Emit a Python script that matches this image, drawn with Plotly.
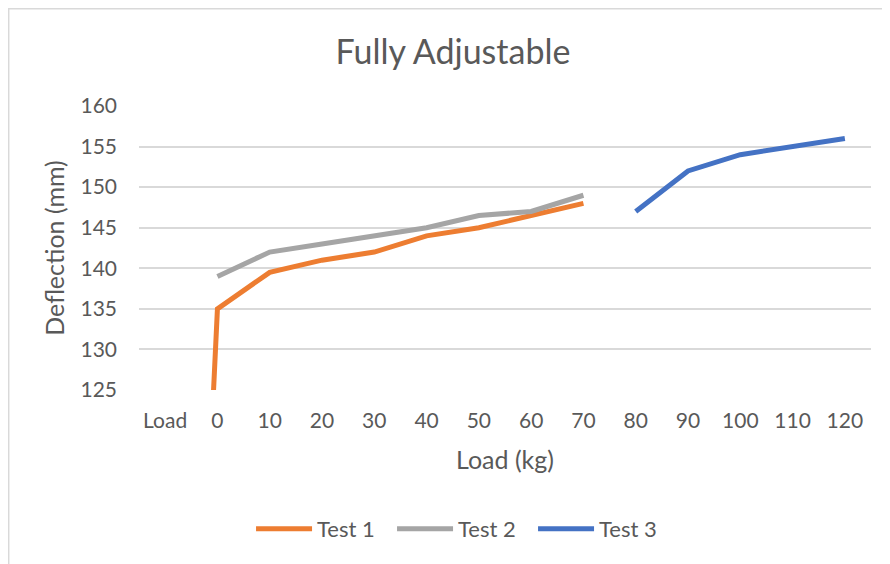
import plotly.graph_objects as go

loads = ["Load", "0", "10", "20", "30", "40", "50", "60", "70", "80", "90", "100", "110", "120"]
test1 = [0, 135, 139.5, 141, 142, 144, 145, 146.5, 148, None, None, None, None, None]
test2 = [None, 139, 142, 143, 144, 145, 146.5, 147, 149, None, None, None, None, None]
test3 = [None, None, None, None, None, None, None, None, None, 147, 152, 154, 155, 156]

series = [("Test 1", test1, "#ED7D31"), ("Test 2", test2, "#A5A5A5"), ("Test 3", test3, "#4472C4")]

fig = go.Figure()
for name, vals, col in series:
    fig.add_trace(go.Scatter(x=loads, y=vals, name=name, mode="lines",
                             line=dict(color=col, width=5), connectgaps=False))

txt = "#595959"
# page body has an 8px margin, so the figure is 8px smaller than the window
W, H = 882, 556
fig.update_layout(
    width=W, height=H,
    margin=dict(l=131, r=19, t=98, b=174),
    paper_bgcolor="white", plot_bgcolor="white",
    font=dict(family="Lato, Open Sans, sans-serif", color=txt, size=21),
    title=dict(text="Fully Adjustable", x=445 / W, xanchor="center", y=1 - 44 / H, yanchor="middle",
               font=dict(size=34, color=txt)),
    legend=dict(orientation="h", x=0.442, xanchor="center", y=-0.489, yanchor="middle",
                font=dict(size=22, color=txt), itemwidth=56,
                entrywidth=70, entrywidthmode="pixels"),
    showlegend=True,
)
fig.update_xaxes(type="category", range=[-0.5, 13.5],
                 title=dict(text="Load (kg)", font=dict(size=25), standoff=20),
                 showgrid=False, showline=False, ticks="", ticklabelstandoff=16)
fig.update_yaxes(range=[125, 160], dtick=5,
                 title=dict(text="Deflection (mm)", font=dict(size=25), standoff=8),
                 showgrid=True, gridcolor="#D9D9D9", gridwidth=1.5, zeroline=False,
                 showline=False, ticks="", ticklabelstandoff=21)

# outer chart border
fig.add_shape(type="rect", xref="paper", yref="paper", x0=-0.178, x1=1.1, y0=-0.7, y1=1.3424,
              line=dict(color="#D9D9D9", width=1.5), fillcolor="rgba(0,0,0,0)", layer="below")

fig.write_html("out.html")
